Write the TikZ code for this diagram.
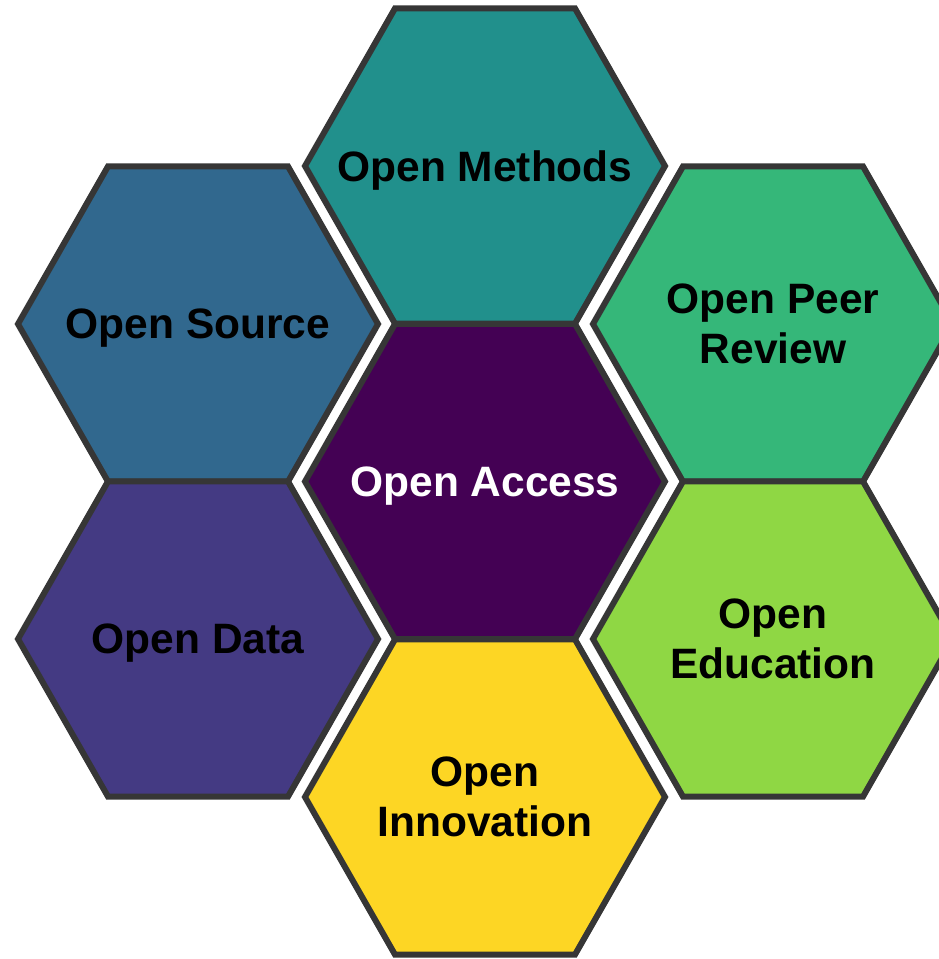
\documentclass[tikz,border=0pt]{standalone}
\usepackage{fontspec}
\setmainfont{Liberation Sans}
\usepackage{tikz}

\definecolor{hexline}{HTML}{363636}
\definecolor{accesscol}{HTML}{440154}
\definecolor{methodscol}{HTML}{21908C}
\definecolor{sourcecol}{HTML}{31688E}
\definecolor{datacol}{HTML}{443A83}
\definecolor{peercol}{HTML}{35B779}
\definecolor{educol}{HTML}{8FD744}
\definecolor{innocol}{HTML}{FDD624}

\newcommand{\hexfont}{\fontsize{42.5}{50}\selectfont\bfseries}

\begin{document}
\begin{tikzpicture}[x=1pt,y=-1pt,
        hex/.style={draw=hexline,line width=6pt,line join=miter},
        every node/.style={font=\hexfont,align=center,inner sep=0pt,text depth=0pt}]
    \useasboundingbox (0,0) rectangle (939,959);
    \clip (0,0) rectangle (939,959);
    % one hexagon and one label per cell
    \foreach \cx/\cy/\col/\tcol/\name/\txt in {
            485/481.5/accesscol/white/access/{Open Access},
            485/166/methodscol/black/methods/{Open Methods},
            485/797/innocol/black/innovation/{Open\\Innovation},
            198/324/sourcecol/black/source/{Open Source},
            198/639/datacol/black/data/{Open Data},
            773/324/peercol/black/peer/{Open Peer\\Review},
            773/639/educol/black/education/{Open\\Education}}{
        \draw[hex,fill=\col] (\cx,\cy) +(0:180 and 182) -- +(60:180 and 182)
            -- +(120:180 and 182) -- +(180:180 and 182) -- +(240:180 and 182)
            -- +(300:180 and 182) -- cycle;
        \node[text=\tcol] (\name) at (\cx,\cy) {\txt};
    }
\end{tikzpicture}
\end{document}
